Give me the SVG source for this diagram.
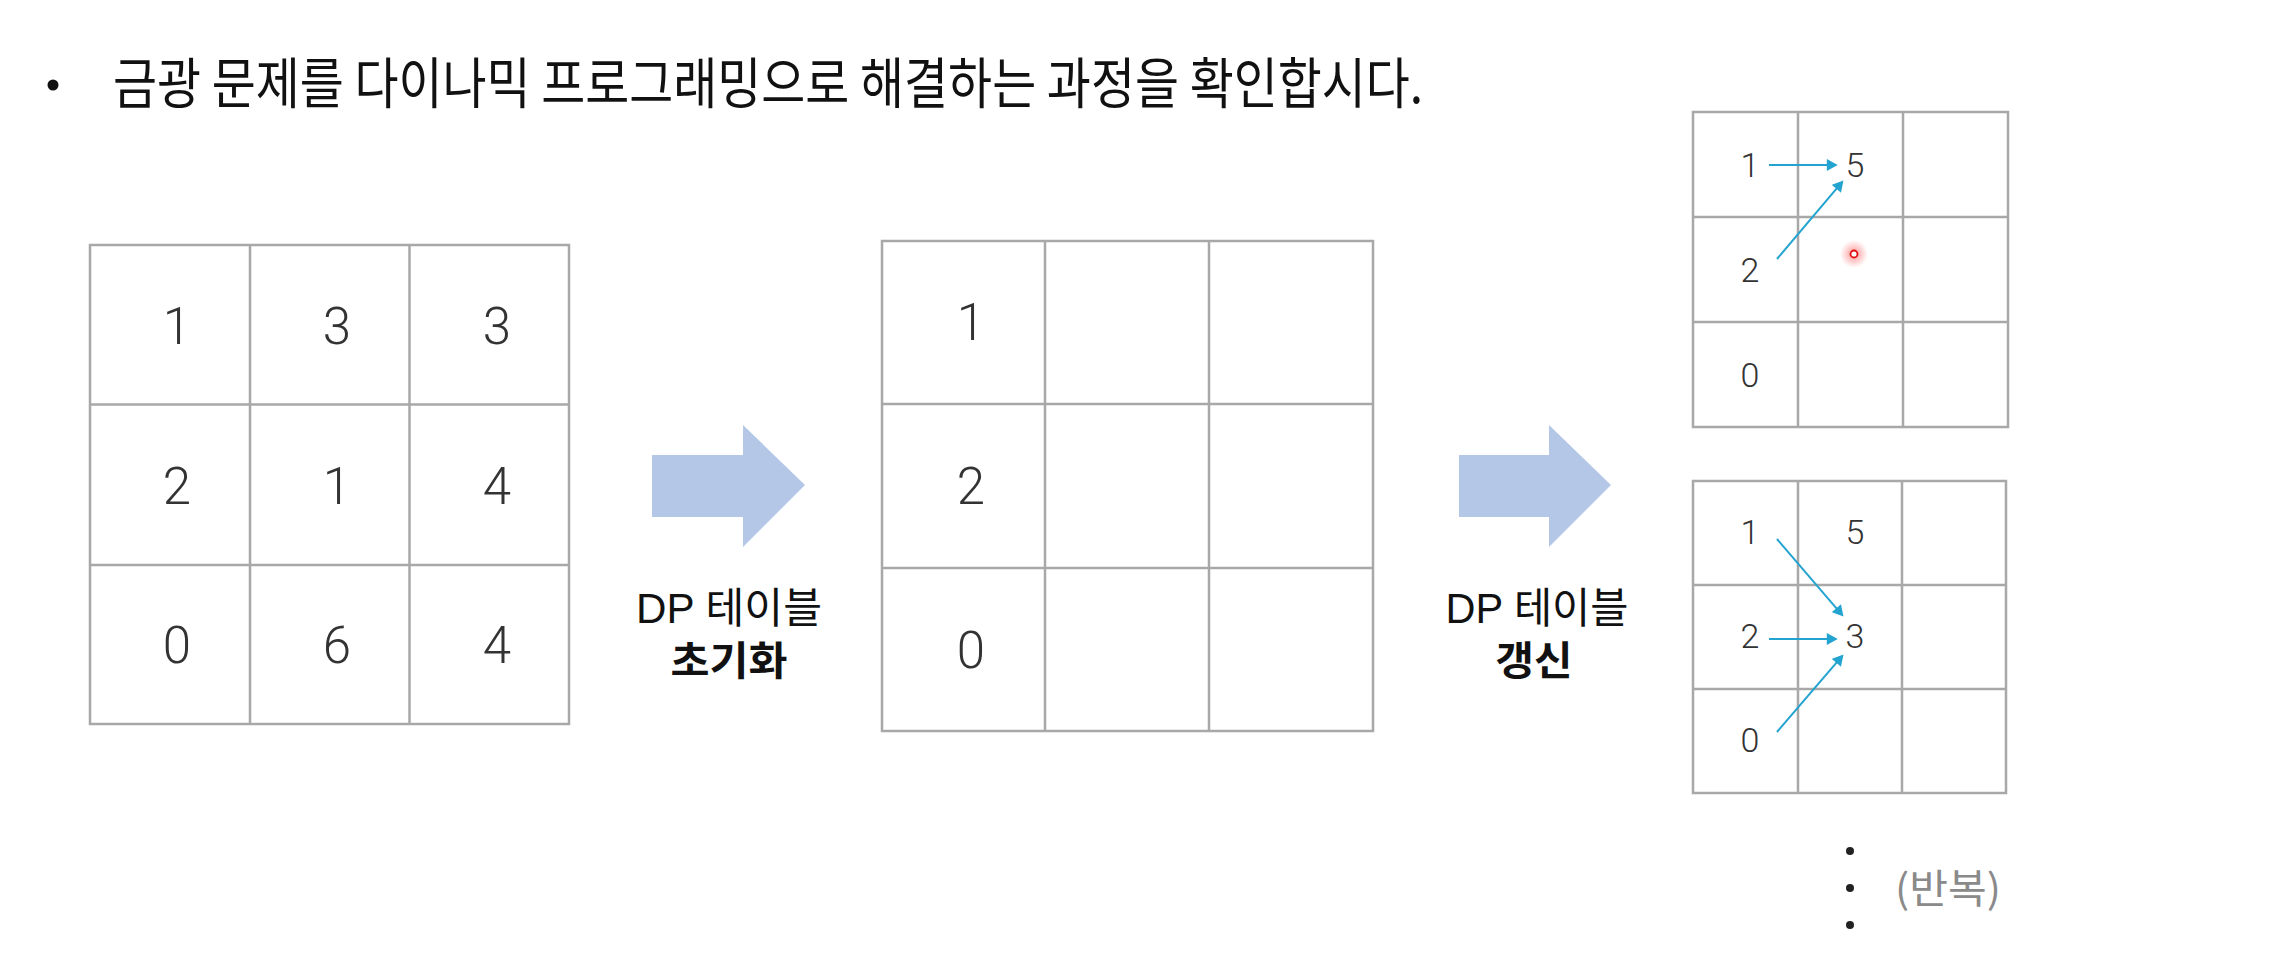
<svg xmlns="http://www.w3.org/2000/svg" width="2276" height="968" viewBox="0 0 2276 968">
  <style>
    .grid { fill: #ffffff; stroke: #a8a8a8; stroke-width: 2.5; }
    .gl { stroke: #a8a8a8; stroke-width: 2.5; }
    .big { font-family: Roboto, "Liberation Sans", sans-serif; font-weight: 300; font-size: 51px; fill: #333333; text-anchor: middle; }
    .small { font-family: Roboto, "Liberation Sans", sans-serif; font-weight: 300; font-size: 34px; fill: #333333; text-anchor: middle; }
    .title { font-family: "Noto Sans CJK KR", "Liberation Sans", sans-serif; font-size: 55px; fill: #111111; }
    .lbl { font-family: "Liberation Sans", "Noto Sans CJK KR", sans-serif; font-size: 42px; fill: #111111; text-anchor: middle; }
    .lblb { font-family: "Noto Sans CJK KR", "Liberation Sans", sans-serif; font-weight: 700; font-size: 40px; fill: #111111; text-anchor: middle; }
    .bigarrow { fill: #b4c7e7; }
    .conn { stroke: #23a3cf; stroke-width: 2; fill: none; marker-end: url(#ah); }
    .rep { font-family: "Noto Sans CJK KR", "Liberation Sans", sans-serif; font-size: 40px; fill: #8a8a8a; text-anchor: middle; }
  </style>
  <defs>
    <marker id="ah" markerUnits="userSpaceOnUse" markerWidth="12" markerHeight="12" viewBox="0 0 10 11" refX="2" refY="5.5" orient="auto">
      <path d="M0,0 L10,5.5 L0,11 z" fill="#23a3cf"/>
    </marker>
    <radialGradient id="glow">
      <stop offset="0" stop-color="#ff4040" stop-opacity="0.55"/>
      <stop offset="1" stop-color="#ff4040" stop-opacity="0"/>
    </radialGradient>
  </defs>

  <rect width="2276" height="968" fill="#ffffff"/>

  <g id="title">
    <circle cx="53" cy="85" r="5.5" fill="#111111"/>
    <text class="title" x="113" y="103" textLength="1310" lengthAdjust="spacingAndGlyphs">금광 문제를 다이나믹 프로그래밍으로 해결하는 과정을 확인합시다.</text>
  </g>

  <g id="grid-input">
    <rect class="grid" x="90" y="245" width="479" height="479"/>
    <line class="gl" x1="250" y1="245" x2="250" y2="724"/>
    <line class="gl" x1="409.5" y1="245" x2="409.5" y2="724"/>
    <line class="gl" x1="90" y1="404.5" x2="569" y2="404.5"/>
    <line class="gl" x1="90" y1="565" x2="569" y2="565"/>
    <text class="big" x="177" y="344">1</text>
    <text class="big" x="337" y="344">3</text>
    <text class="big" x="497" y="344">3</text>
    <text class="big" x="177" y="504">2</text>
    <text class="big" x="337" y="504">1</text>
    <text class="big" x="497" y="504">4</text>
    <text class="big" x="177" y="663">0</text>
    <text class="big" x="337" y="663">6</text>
    <text class="big" x="497" y="663">4</text>
  </g>

  <g id="step-init">
    <polygon class="bigarrow" points="652,455 743,455 743,425 805,485 743,547 743,517 652,517"/>
    <text class="lbl" x="729" y="623" textLength="186" lengthAdjust="spacingAndGlyphs">DP 테이블</text>
    <text class="lblb" x="729" y="675" textLength="117" lengthAdjust="spacingAndGlyphs">초기화</text>
  </g>

  <g id="grid-dp-init">
    <rect class="grid" x="882" y="241" width="491" height="490"/>
    <line class="gl" x1="1045" y1="241" x2="1045" y2="731"/>
    <line class="gl" x1="1209" y1="241" x2="1209" y2="731"/>
    <line class="gl" x1="882" y1="404" x2="1373" y2="404"/>
    <line class="gl" x1="882" y1="568" x2="1373" y2="568"/>
    <text class="big" x="971" y="340">1</text>
    <text class="big" x="971" y="504">2</text>
    <text class="big" x="971" y="668">0</text>
  </g>

  <g id="step-update">
    <polygon class="bigarrow" points="1459,455 1549,455 1549,425 1611,485 1549,547 1549,517 1459,517"/>
    <text class="lbl" x="1537" y="623" textLength="183" lengthAdjust="spacingAndGlyphs">DP 테이블</text>
    <text class="lblb" x="1534" y="675" textLength="77" lengthAdjust="spacingAndGlyphs">갱신</text>
  </g>

  <g id="grid-dp-step1">
    <rect class="grid" x="1693" y="112" width="315" height="315"/>
    <line class="gl" x1="1798" y1="112" x2="1798" y2="427"/>
    <line class="gl" x1="1903" y1="112" x2="1903" y2="427"/>
    <line class="gl" x1="1693" y1="217" x2="2008" y2="217"/>
    <line class="gl" x1="1693" y1="322" x2="2008" y2="322"/>
    <text class="small" x="1750" y="177">1</text>
    <text class="small" x="1855" y="177">5</text>
    <text class="small" x="1750" y="282">2</text>
    <text class="small" x="1750" y="387">0</text>
  </g>

  <g id="grid-dp-step2">
    <rect class="grid" x="1693" y="481" width="313" height="312"/>
    <line class="gl" x1="1798" y1="481" x2="1798" y2="793"/>
    <line class="gl" x1="1902" y1="481" x2="1902" y2="793"/>
    <line class="gl" x1="1693" y1="585" x2="2006" y2="585"/>
    <line class="gl" x1="1693" y1="689" x2="2006" y2="689"/>
    <text class="small" x="1750" y="544">1</text>
    <text class="small" x="1855" y="544">5</text>
    <text class="small" x="1750" y="648">2</text>
    <text class="small" x="1855" y="648">3</text>
    <text class="small" x="1750" y="752">0</text>
  </g>

  <g id="connectors">
    <line class="conn" x1="1769" y1="165" x2="1829" y2="165"/>
    <line class="conn" x1="1777" y1="259" x2="1837.8" y2="187.1"/>
    <line class="conn" x1="1777" y1="539" x2="1837.8" y2="609.9"/>
    <line class="conn" x1="1769" y1="639" x2="1829" y2="639"/>
    <line class="conn" x1="1777" y1="732" x2="1837.8" y2="661.1"/>
  </g>

  <g id="pointer">
    <circle cx="1854" cy="254" r="14" fill="url(#glow)"/>
    <circle cx="1854" cy="254" r="3.5" fill="#ffffff" stroke="#e01010" stroke-width="1.8"/>
  </g>

  <g id="repeat">
    <circle cx="1850" cy="851" r="4" fill="#222222"/>
    <circle cx="1850" cy="888" r="4" fill="#222222"/>
    <circle cx="1850" cy="925" r="4" fill="#222222"/>
    <text class="rep" x="1948" y="903" textLength="106" lengthAdjust="spacingAndGlyphs">(반복)</text>
  </g>
</svg>
